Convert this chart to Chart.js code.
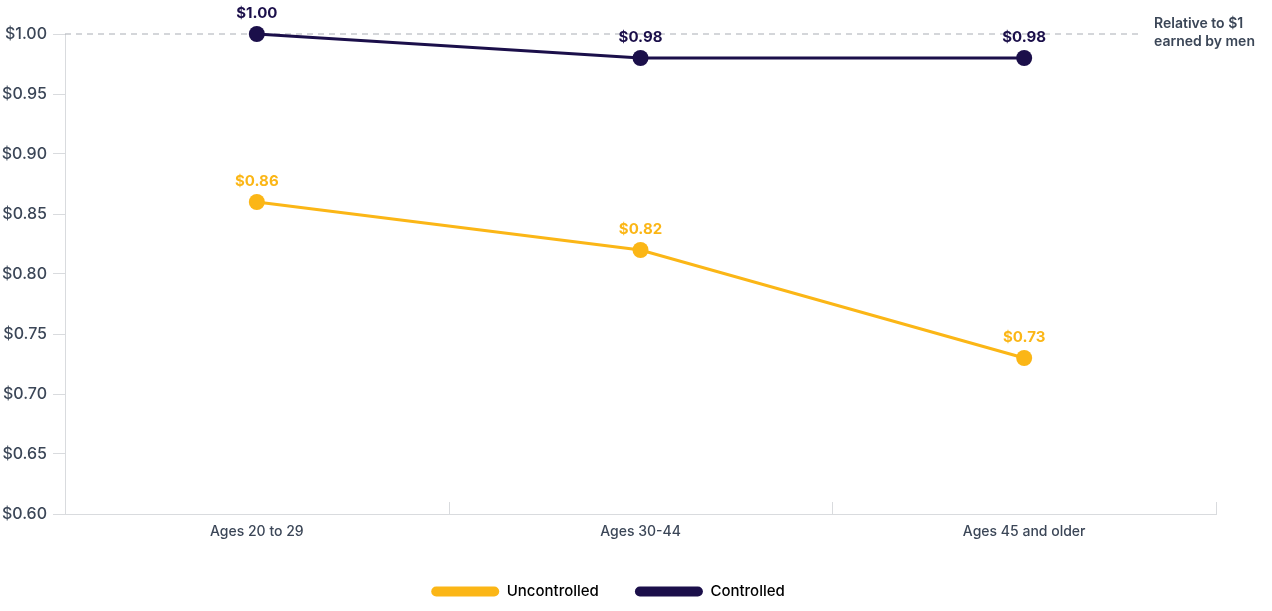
<!DOCTYPE html>
<html>
<head>
<meta charset="utf-8">
<script src="https://cdn.jsdelivr.net/npm/chart.js@4/dist/chart.umd.min.js"></script>
<style>
  html, body { margin: 0; padding: 0; background: #fff; }
  #wrap { width: 1272px; height: 611px; }
</style>
</head>
<body>
<div id="wrap"><canvas id="gapChart"></canvas></div>
<script>
const ageGroups = ["Ages 20 to 29", "Ages 30-44", "Ages 45 and older"];
const uncontrolled = [0.86, 0.82, 0.73];
const controlled = [1.00, 0.98, 0.98];
const referenceValue = 1.00;
const referenceNote = ["Relative to $1", "earned by men"];

const YELLOW = '#fbb616';
const NAVY = '#1b0f4a';
const TEXT = '#3b4657';
const AXIS = '#d9dbde';

Chart.defaults.font.family = 'Inter, "Open Sans", sans-serif';
Chart.defaults.color = TEXT;

function money(v) { return '$' + v.toFixed(2); }

// dashed reference line at $1.00 and the note next to it
const referenceLine = {
  id: 'referenceLine',
  beforeDatasetsDraw(chart) {
    const { ctx, chartArea, scales } = chart;
    const y = scales.y.getPixelForValue(referenceValue);
    const noteX = chartArea.right - 62;
    ctx.save();
    ctx.strokeStyle = '#a9adb4';
    ctx.lineWidth = 1;
    ctx.setLineDash([6, 5]);
    ctx.beginPath();
    ctx.moveTo(chartArea.left, y);
    ctx.lineTo(noteX - 14, y);
    ctx.stroke();
    ctx.setLineDash([]);
    ctx.fillStyle = TEXT;
    ctx.font = '600 14px Inter, sans-serif';
    ctx.textAlign = 'left';
    ctx.textBaseline = 'middle';
    ctx.fillText(referenceNote[0], noteX, y - 10);
    ctx.fillText(referenceNote[1], noteX, y + 8);
    ctx.restore();
  }
};

// small upward ticks on the x axis between categories
const categoryTicks = {
  id: 'categoryTicks',
  afterDraw(chart) {
    const { ctx, chartArea, scales } = chart;
    const x = scales.x;
    const n = ageGroups.length;
    const step = x.getPixelForValue(1) - x.getPixelForValue(0);
    ctx.save();
    ctx.strokeStyle = AXIS;
    ctx.lineWidth = 1;
    for (let i = 1; i <= n; i++) {
      const px = Math.round(x.getPixelForValue(i) - step / 2) + 0.5;
      ctx.beginPath();
      ctx.moveTo(px, chartArea.bottom);
      ctx.lineTo(px, chartArea.bottom - 12);
      ctx.stroke();
    }
    ctx.restore();
  }
};

// value labels above each point
const valueLabels = {
  id: 'valueLabels',
  afterDatasetsDraw(chart) {
    const { ctx } = chart;
    ctx.save();
    ctx.font = 'bold 15px Inter, sans-serif';
    ctx.textAlign = 'center';
    ctx.textBaseline = 'middle';
    chart.data.datasets.forEach((ds, i) => {
      const meta = chart.getDatasetMeta(i);
      ctx.fillStyle = ds.borderColor;
      meta.data.forEach((pt, j) => {
        ctx.fillText(money(ds.data[j]), pt.x, pt.y - 21);
      });
    });
    ctx.restore();
  }
};

new Chart('gapChart', {
  type: 'line',
  data: {
    labels: ageGroups,
    datasets: [{
      label: 'Uncontrolled',
      data: uncontrolled,
      borderColor: YELLOW,
      backgroundColor: YELLOW,
      borderWidth: 3,
      pointRadius: 8,
      pointHoverRadius: 8,
      pointBackgroundColor: YELLOW,
      pointBorderWidth: 0
    }, {
      label: 'Controlled',
      data: controlled,
      borderColor: NAVY,
      backgroundColor: NAVY,
      borderWidth: 3,
      pointRadius: 8,
      pointHoverRadius: 8,
      pointBackgroundColor: NAVY,
      pointBorderWidth: 0
    }]
  },
  options: {
    responsive: true,
    maintainAspectRatio: false,
    animation: false,
    layout: { padding: { top: 34, right: 56, bottom: 2, left: 0 } },
    clip: false,
    plugins: {
      tooltip: { enabled: false },
      legend: {
        position: 'bottom',
        labels: {
          boxWidth: 68,
          boxHeight: 10,
          padding: 36,
          font: { size: 15, weight: '500' },
          color: TEXT,
          useBorderRadius: true,
          generateLabels(chart) {
            return chart.data.datasets.map((ds, i) => ({
              text: ds.label,
              fillStyle: ds.borderColor,
              strokeStyle: ds.borderColor,
              lineWidth: 0,
              borderRadius: 5,
              datasetIndex: i,
              hidden: false
            }));
          }
        }
      }
    },
    scales: {
      x: {
        offset: true,
        grid: { display: false, drawTicks: false },
        border: { display: true, color: AXIS, width: 1 },
        ticks: { font: { size: 14, weight: '500' }, color: TEXT, padding: 9 },
        afterFit(scale) { scale.height = 34; }
      },
      y: {
        min: 0.6,
        max: 1.0,
        grid: { drawOnChartArea: false, drawTicks: true, tickLength: 12, color: AXIS },
        border: { display: true, color: AXIS, width: 1 },
        ticks: {
          stepSize: 0.05,
          padding: 6,
          font: { size: 16, weight: '500' },
          color: TEXT,
          callback: (v) => money(v)
        },
        afterFit(scale) { scale.width = 65; }
      }
    }
  },
  plugins: [referenceLine, categoryTicks, valueLabels]
});
</script>
</body>
</html>
